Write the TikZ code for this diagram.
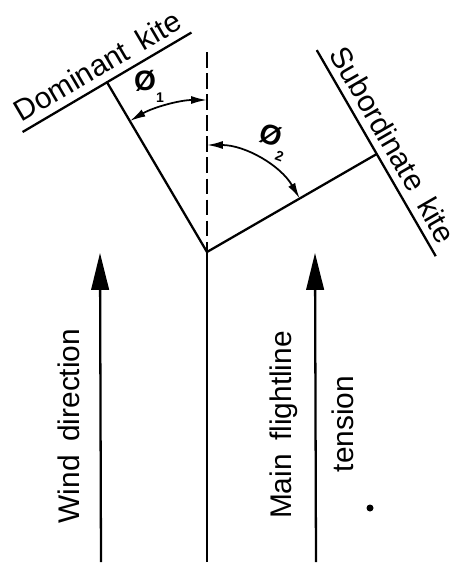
\documentclass[tikz,border=0pt]{standalone}
\usepackage{fontspec}
\setmainfont{Liberation Sans}
\usetikzlibrary{arrows.meta, positioning, calc}
\tikzset{every node/.append style={align=center}}

\begin{document}
\begin{tikzpicture}[x=0.02cm, y=-0.02cm, line width=1.3pt,
  bigarrow/.style={-{Triangle[length=21pt,width=10pt]}},
  anglearrow/.style={{Latex[length=9pt,width=4.5pt]}-{Latex[length=9pt,width=4.5pt]}, line width=1pt},
  lbl/.style={font=\fontsize{17}{20}\selectfont, inner sep=0pt},
  anglelbl/.style={font=\fontsize{16}{18}\selectfont\bfseries, inner sep=0pt}]

\useasboundingbox (0,0) rectangle (461,565);

% ── Bridle point and flying lines ─────────────────────────────────────────────
\coordinate (bridle) at (207,252);
\coordinate (base) at (207,562);
\coordinate (vtop) at ($(bridle)+(-90:200)$);
\coordinate (domend) at ($(bridle)+(-120.5:197)$);
\coordinate (subend) at ($(bridle)+(-30:196)$);

\draw (base) -- (bridle);
\draw[dash pattern=on 9pt off 3pt] (vtop) -- (bridle);
\draw (bridle) -- (domend);
\draw (bridle) -- (subend);

% ── Kites ─────────────────────────────────────────────────────────────────────
\draw ($(domend)+(149.5:98)$) -- ($(domend)+(-30.5:98)$);
\draw ($(subend)+(-120:120)$) -- ($(subend)+(60:118)$);
\node[lbl, rotate=30.4, anchor=south, inner sep=4pt] (domlbl) at (domend)
      {Dominant\hspace{0.45em}kite};
\node[lbl, rotate=-60, anchor=south, inner sep=4pt] (sublbl) at (subend)
      {Subordinate\hspace{0.45em}kite};

% ── Angles ────────────────────────────────────────────────────────────────────
\draw[anglearrow] ($(bridle)+(-90:152)$) arc[start angle=-90, end angle=-120.5, radius=152];
\draw[anglearrow] ($(bridle)+(-90:107)$) arc[start angle=-90, end angle=-30, radius=107];
\node[anglelbl] (phione) at (149,86) {Ø\raisebox{-0.8ex}{\footnotesize 1}};
\node[anglelbl, rotate=-20] (phitwo) at (273,142) {Ø\raisebox{-0.8ex}{\footnotesize 2}};

% ── Wind and tension ──────────────────────────────────────────────────────────
\coordinate (windtail) at (101,562);
\coordinate (windtip) at (100,253);
\coordinate (tenstail) at (316,562);
\coordinate (tenstip) at (315,253);
\draw[bigarrow] (windtail) -- (windtip);
\draw[bigarrow] (tenstail) -- (tenstip);

\node[lbl, rotate=90] (windlbl) at (69,426) {Wind\hspace{0.45em}direction};
\node[lbl, rotate=90] (mainlbl) at (284,425) {Main\hspace{0.45em}flightline};
\node[lbl, rotate=90] (tenslbl) at (343,424) {tension};

\fill (370,508) circle[radius=3.5];

\end{tikzpicture}
\end{document}
